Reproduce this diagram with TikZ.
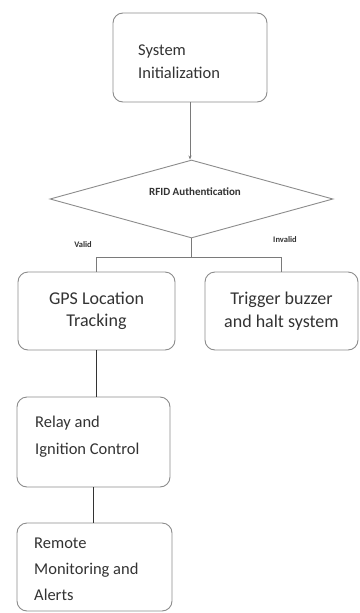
\documentclass[tikz,border=0pt]{standalone}
\usepackage{fontspec}
\setmainfont{Carlito}
\usetikzlibrary{shapes.geometric,arrows.meta}
\definecolor{boxgray}{HTML}{8C8C8C}
\definecolor{txt}{HTML}{333333}
\definecolor{lineg}{HTML}{7A7A7A}
\begin{document}
\begin{tikzpicture}[x=1pt,y=-1pt,
  box/.style={draw=boxgray, line width=0.9pt, rounded corners=10pt, inner sep=0pt},
  btxt/.style={text=txt, align=center, inner sep=0pt},
  ltxt/.style={text=txt, align=left, anchor=west, inner sep=0pt},
  lbl/.style={text=txt, font=\bfseries\fontsize{8.5}{9}\selectfont, inner sep=0pt},
  conn/.style={draw=lineg, line width=0.7pt},
  thick conn/.style={draw=txt, line width=1.8pt}]
\useasboundingbox (0,0) rectangle (359,613);
\fill[white] (0,0) rectangle (359,613);
% boxes
\node[box, minimum width=154pt, minimum height=89pt] (init) at (190,57.5) {};
\node[ltxt, font=\fontsize{16.5}{23}\selectfont] (initT) at (138,61.5) {System\\Initialization};
\node[draw=boxgray, line width=0.9pt, diamond, minimum width=283pt, minimum height=78pt, inner sep=0pt, aspect=3.6] (rfid) at (191.5,199) {};
\node[text=txt, font=\bfseries\fontsize{11}{12}\selectfont, inner sep=0pt] (rfidT) at (195,192) {RFID Authentication};
\node[box, minimum width=157pt, minimum height=78pt, btxt, font=\fontsize{18}{22}\selectfont] (gps) at (96.5,311) {GPS Location\\Tracking};
\node[box, minimum width=153pt, minimum height=78pt, btxt, font=\fontsize{18}{23}\selectfont] (trig) at (281.5,311) {Trigger buzzer\\and halt system};
\node[box, minimum width=153pt, minimum height=90pt] (relay) at (93.5,442) {};
\node[ltxt, font=\fontsize{16.5}{27}\selectfont] (relayT) at (35,436.5) {Relay and\\Ignition Control};
\node[box, minimum width=155pt, minimum height=88pt] (remote) at (94.5,567) {};
\node[ltxt, font=\fontsize{16.5}{26}\selectfont] (remoteT) at (34,569) {Remote\\Monitoring and\\Alerts};
% labels
\node[lbl] (valid) at (83,245) {Valid};
\node[lbl] (invalid) at (285,240) {Invalid};
% connectors
\draw[conn, -{Stealth[length=4pt,width=3pt]}] (init.south) -- (init.south |- rfid.north);
\draw[conn] (rfid.south) -- ++(0,19) coordinate (split);
\draw[conn] (split) -| (gps.north);
\draw[conn] (split) -| (trig.north);
\draw[thick conn] (gps.south) -- (gps.south |- relay.north);
\draw[thick conn] (relay.south) -- (relay.south |- remote.north);
\end{tikzpicture}
\end{document}
